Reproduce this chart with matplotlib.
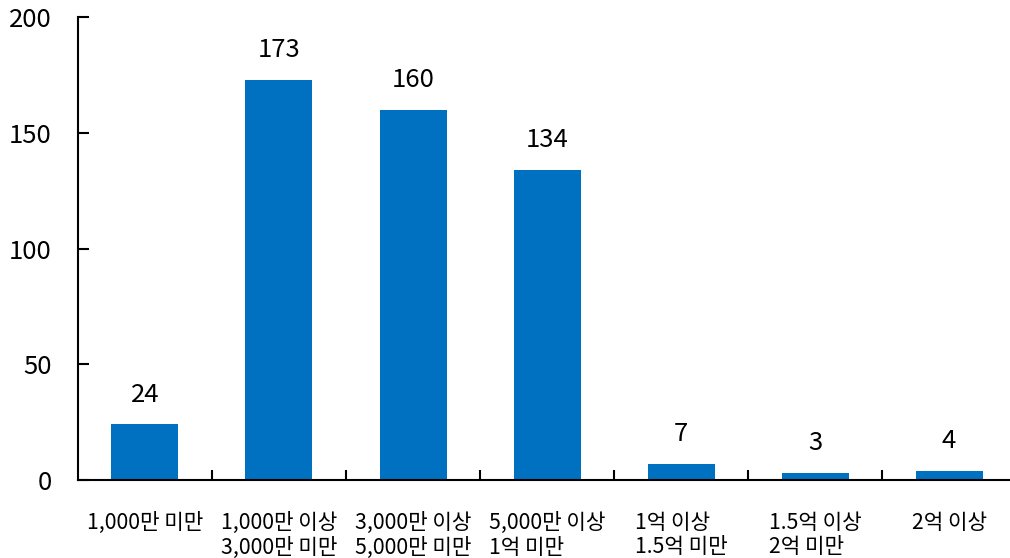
import matplotlib.pyplot as plt
import numpy as np

plt.rcParams["font.family"] = ["Noto Sans CJK KR", "DejaVu Sans"]
plt.rcParams["font.weight"] = "light"

categories = [
    "1,000만 미만",
    "1,000만 이상\n3,000만 미만",
    "3,000만 이상\n5,000만 미만",
    "5,000만 이상\n1억 미만",
    "1억 이상\n1.5억 미만",
    "1.5억 이상\n2억 미만",
    "2억 이상",
]
counts = [24, 173, 160, 134, 7, 3, 4]
y_ticks = [0, 50, 100, 150, 200]

bar_color = "#0070C0"

fig = plt.figure(figsize=(10.1, 5.58), dpi=100)
ax = fig.add_axes([0.0772, 0.1398, 0.9288, 0.8297])

x = np.arange(len(categories))
ax.bar(x, counts, width=0.5, color=bar_color, zorder=2)

for xi, v in zip(x, counts):
    ax.annotate(str(v), (xi, v), xytext=(0, 12), textcoords="offset points",
                ha="center", va="bottom", fontsize=18.5)

ax.set_xlim(-0.5, len(categories) - 0.5)
ax.set_ylim(0, 200)
ax.set_yticks(y_ticks)
ax.set_yticklabels([str(t) for t in y_ticks], fontsize=18.5)

# category labels sit between boundary ticks
ax.set_xticks(x)
ax.set_xticklabels(categories, fontsize=15.3, multialignment="left",
                   linespacing=1.15)
ax.tick_params(axis="x", length=0, pad=23)
ax.set_xticks(x[:-1] + 0.5, minor=True)
ax.tick_params(axis="x", which="minor", direction="in", length=7, width=1.5)
ax.tick_params(axis="y", direction="in", length=8, width=1.5, pad=19)

for side in ("top", "right"):
    ax.spines[side].set_visible(False)
for side in ("left", "bottom"):
    ax.spines[side].set_linewidth(1.5)

fig.savefig("out.png", dpi=100)
